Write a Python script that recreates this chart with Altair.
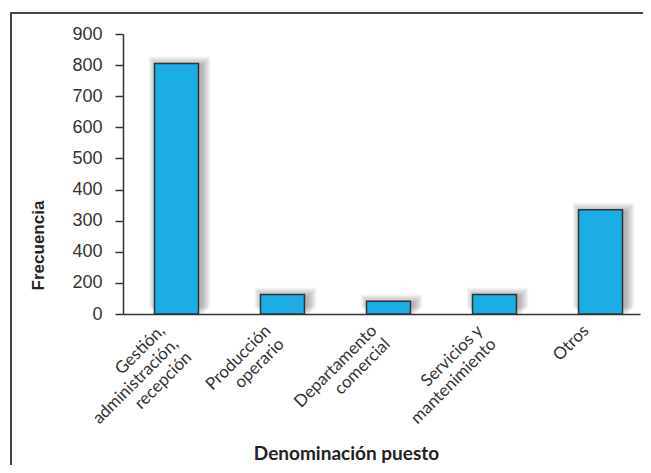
import altair as alt
import pandas as pd

# ---- data ----
categories = [
    "Gestión,\nadministración,\nrecepción",
    "Producción\noperario",
    "Departamento\ncomercial",
    "Servicios y\nmantenimiento",
    "Otros",
]
frecuencia = [805, 63, 41, 63, 335]

y_tick_values = [0, 100, 200, 300, 400, 500, 600, 700, 800, 900]
y_tick_labels = ["0", "200", "400", "300", "400", "500", "600", "700", "800", "900"]

df = pd.DataFrame({"puesto": categories, "frecuencia": frecuencia})

label_expr = " : ".join(
    f"datum.value == {v} ? '{l}'" for v, l in zip(y_tick_values, y_tick_labels)
) + " : datum.label"

W, H = 517, 280
DARK = "#333333"

x_enc = alt.X(
    "puesto:N",
    sort=None,
    scale=alt.Scale(paddingInner=0.585, paddingOuter=0.231, align=0.643),
    axis=alt.Axis(
        title="Denominación puesto",
        titleFont="Lato",
        titleFontSize=19,
        titleFontWeight="bold",
        titleColor="#222222",
        titleX=223,
        titleY=145,
        titleAnchor="start",
        titleAlign="center",
        titleBaseline="alphabetic",
        labelExpr="split(datum.label, '\\n')",
        labelAngle=-45,
        labelAlign="right",
        labelBaseline="top",
        labelFont="Lato",
        labelFontSize=17,
        labelLineHeight=19,
        labelColor=DARK,
        labelOffset=-20,
        labelPadding=8,
        ticks=False,
        domainColor=DARK,
        domainWidth=1.5,
        labelOverlap=False,
    ),
)

y_enc = alt.Y(
    "frecuencia:Q",
    scale=alt.Scale(domain=[0, 900], nice=False),
    axis=alt.Axis(
        title="Frecuencia",
        titleFont="Liberation Sans",
        titleFontSize=17,
        titleFontWeight="bold",
        titleColor="#222222",
        titleX=-80,
        titleY=211,
        titleAlign="center",
        titleBaseline="alphabetic",
        titleAngle=270,
        values=y_tick_values,
        labelExpr=label_expr,
        labelFont="Liberation Sans",
        labelFontSize=18,
        labelColor=DARK,
        labelPadding=13,
        tickSize=8,
        tickColor=DARK,
        tickWidth=1.5,
        domainColor=DARK,
        domainWidth=1.5,
        grid=False,
    ),
)

base = alt.Chart(df)

shadows = []
for r in range(1, 10):
    shadows.append(
        base.mark_bar(color="black", opacity=0.035, width=44 + 2 * r, xOffset=3, yOffset=2 - r)
        .encode(x=x_enc, y=y_enc)
    )

bars = base.mark_bar(color="#1BADE3", stroke=DARK, strokeWidth=1.5).encode(x=x_enc, y=y_enc)

# outer frame: only its top and left edges fall inside the drawing
frame = alt.Chart(df).mark_rect(fill=None, fillOpacity=0, stroke="#444444", strokeWidth=1.5).encode(
    x=alt.value(-112), x2=alt.value(700), y=alt.value(-21.3), y2=alt.value(600)
)

chart = (
    alt.layer(*shadows, bars, frame)
    .properties(
        width=W,
        height=H,
        autosize=alt.AutoSizeParams(type="none"),
        padding={"left": 115, "top": 26, "right": 3, "bottom": 151},
        background="white",
    )
    .configure_view(stroke=None)
)

chart.save("out.html", embed_options={"renderer": "svg", "actions": False})
